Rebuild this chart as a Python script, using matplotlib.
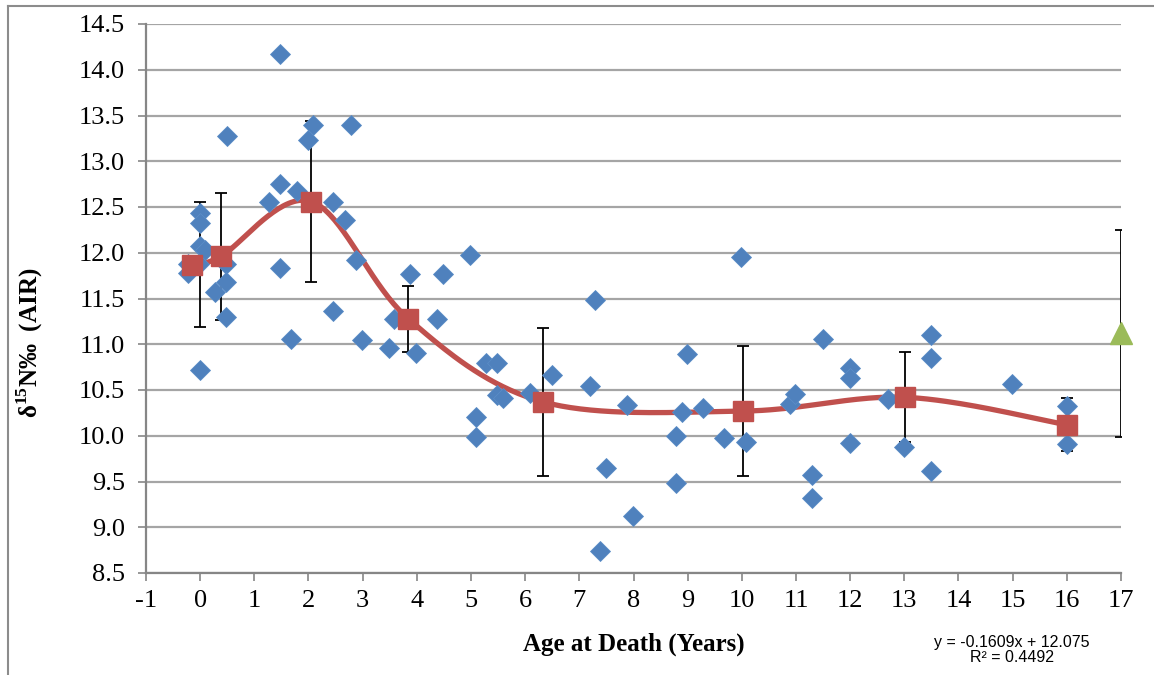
import matplotlib
matplotlib.use("Agg")
import matplotlib.pyplot as plt
from matplotlib.lines import Line2D
import numpy as np

plt.rcParams['font.family'] = ['Liberation Serif', 'DejaVu Serif']
plt.rcParams['mathtext.fontset'] = 'custom'
plt.rcParams['mathtext.rm'] = 'Liberation Serif'
plt.rcParams['mathtext.bf'] = 'Liberation Serif:bold'
plt.rcParams['axes.unicode_minus'] = False

# individual samples: age at death (years) and d15N
age = [0, 0, 0, 0.09, -0.22, -0.22, -0.03, 0, 0.48, 0.48, 0.28, 0.48, 0.5,
       1.28, 1.48, 1.78, 1.48, 1.68, 1.48, 2.08, 1.99, 2.78, 2.46, 2.46, 2.68, 2.88, 2.98,
       3.48, 3.58, 3.88, 3.99, 4.38, 4.48, 4.98, 5.09, 5.09, 5.28, 5.48, 5.48, 5.59, 6.08, 6.49,
       7.19, 7.29, 7.38, 7.49, 7.88, 7.99, 8.79, 8.79, 8.89, 8.98, 9.29, 9.68, 9.99, 10.08,
       10.89, 10.98, 11.29, 11.29, 11.49, 11.99, 11.99, 11.99, 12.69, 13.0, 13.49, 13.49, 13.49,
       14.99, 16.0, 16.0]
d15n = [12.43, 12.32, 12.07, 12.03, 11.88, 11.78, 11.88, 10.72, 11.88, 11.68, 11.57, 11.30, 13.28,
        12.55, 12.75, 12.67, 11.83, 11.06, 14.17, 13.40, 13.23, 13.40, 12.56, 11.36, 12.36, 11.92, 11.05,
        10.96, 11.28, 11.77, 10.90, 11.28, 11.77, 11.98, 10.21, 9.99, 10.80, 10.80, 10.45, 10.41, 10.47, 10.66,
        10.54, 11.48, 8.74, 9.65, 10.34, 9.12, 10.00, 9.48, 10.26, 10.89, 10.30, 9.97, 11.95, 9.93,
        10.35, 10.46, 9.57, 9.32, 11.06, 10.74, 10.63, 9.92, 10.40, 9.88, 11.10, 10.85, 9.62,
        10.57, 10.33, 9.91]

# age-group means with error bars
mean_age = [-0.15, 0.38, 2.05, 3.84, 6.33, 10.03, 13.02, 16.0]
mean_d15n = [11.87, 11.96, 12.56, 11.28, 10.37, 10.27, 10.42, 10.12]
mean_err = [0.68, 0.69, 0.88, 0.36, 0.81, 0.715, 0.49, 0.29]
bar_age = [0.0, 0.38, 2.05, 3.84, 6.33, 10.03, 13.02, 16.0]

# adult value
adult_age = [17]
adult_d15n = [11.12]
adult_err = [1.13]

equation = "y = -0.1609x + 12.075\nR² = 0.4492"


def smooth_line(xs, ys, n=40):
    # excel-like smoothed line (catmull-rom as bezier)
    p = np.column_stack([xs, ys])
    out = []
    for i in range(len(p) - 1):
        p0 = p[i - 1] if i > 0 else p[i]
        p3 = p[i + 2] if i + 2 < len(p) else p[i + 1]
        c1 = p[i] + (p[i + 1] - p0) / 6
        c2 = p[i + 1] - (p3 - p[i]) / 6
        t = np.linspace(0, 1, n)[:, None]
        seg = ((1 - t) ** 3 * p[i] + 3 * (1 - t) ** 2 * t * c1
               + 3 * (1 - t) * t ** 2 * c2 + t ** 3 * p[i + 1])
        out.append(seg)
    out = np.vstack(out)
    return out[:, 0], out[:, 1]


fig = plt.figure(figsize=(11.54, 6.75), dpi=100)
ax = fig.add_axes([146 / 1154, 1 - 573 / 675, 975 / 1154, 549 / 675])

grid_c = '#a5a5a5'
ax.set_xlim(-1, 17)
ax.set_ylim(8.5, 14.5)
ax.set_xticks(np.arange(-1, 18, 1))
ax.set_yticks(np.arange(8.5, 14.51, 0.5))
ax.set_yticklabels([f"{v:.1f}" for v in np.arange(8.5, 14.51, 0.5)])
ax.yaxis.grid(True, color=grid_c, lw=1.6, zorder=0)
ax.set_axisbelow(True)
for s in ['top', 'right']:
    ax.spines[s].set_visible(False)
for s in ['left', 'bottom']:
    ax.spines[s].set_color('#868686')
    ax.spines[s].set_linewidth(1.6)
ax.tick_params(axis='both', direction='out', length=6, width=1.2, color='#868686',
               labelsize=19)
ax.tick_params(axis='y', pad=9)
ax.tick_params(axis='x', pad=6)

cx, cy = smooth_line(mean_age, mean_d15n)
ax.plot(cx, cy, color='#C0504D', lw=3.8, zorder=2, solid_capstyle='round')

ax.errorbar(bar_age, mean_d15n, yerr=mean_err, fmt='none', ecolor='black',
            elinewidth=1.3, capsize=4, capthick=1.3, zorder=3)
ax.errorbar(adult_age, adult_d15n, yerr=adult_err, fmt='none', ecolor='black',
            elinewidth=1.3, capsize=4, capthick=1.3, zorder=3)

ax.plot(age, d15n, linestyle='none', marker='D', ms=10, color='#4F81BD',
        mec='#5a8cc6', mew=0.6, zorder=4, clip_on=False)
ax.plot(mean_age, mean_d15n, linestyle='none', marker='s', ms=14, color='#C0504D',
        zorder=5)
ax.plot(adult_age, adult_d15n, linestyle='none', marker='^', ms=16, color='#9BBB59',
        zorder=5, clip_on=False)

ax.set_xlabel('Age at Death (Years)', fontsize=18, fontweight='bold')
ax.xaxis.set_label_coords(0.5, -0.108)
ax.set_ylabel(r'δ$^{\mathbf{15}}$N‰  (AIR)', fontsize=18, fontweight='bold')
ax.yaxis.set_label_coords(-0.104, 0.42)

fig.text(1012 / 1154, 1 - 650 / 675, equation, ha='center', va='center',
         fontsize=11.5, family='Liberation Sans', linespacing=0.95)

# figure frame (left and top edges)
fig.add_artist(Line2D([8 / 1154, 8 / 1154], [0, 1 - 6 / 675], color='#8c8c8c', lw=1.5))
fig.add_artist(Line2D([8 / 1154, 1], [1 - 6 / 675, 1 - 6 / 675], color='#8c8c8c', lw=1.5))

fig.savefig('out.png', dpi=100)
